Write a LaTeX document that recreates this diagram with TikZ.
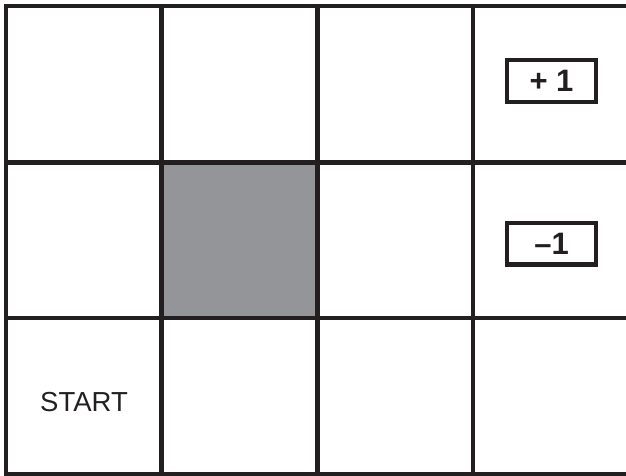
\documentclass[tikz,border=0pt]{standalone}
\usepackage{fontspec}
\setmainfont{Liberation Sans}
\definecolor{gridline}{HTML}{231F20}
\definecolor{wallgray}{HTML}{949599}
\begin{document}
\begin{tikzpicture}[x=1pt,y=-1pt,
  gridstroke/.style={draw=gridline,line width=4.5pt},
  rewardbox/.style={draw=gridline,line width=4.3pt,minimum width=88.7pt,minimum height=41.7pt,inner sep=0pt,font=\fontsize{31}{31}\selectfont\bfseries,text=gridline},
  celltext/.style={font=\fontsize{27.5}{27.5}\selectfont,text=gridline,inner sep=0pt}]
\useasboundingbox (0,0) rectangle (626,476);
% wall cell
\fill[wallgray] (161.5,162.5) rectangle (317.5,318);
% outer frame (right side cut off)
\draw[gridstroke,line join=miter] (640,6) -- (6,6) -- (6,474) -- (640,474);
% inner horizontal lines
\draw[gridstroke] (6,162.5) -- (640,162.5);
\draw[gridstroke] (6,318) -- (640,318);
% inner vertical lines
\draw[gridstroke] (161.5,6) -- (161.5,474);
\draw[gridstroke] (317.5,6) -- (317.5,474);
\draw[gridstroke] (473,6) -- (473,474);
% labels
\node[rewardbox] (plusone) at (551.5,81) {+ 1};
\node[rewardbox] (minusone) at (551.5,243.5) {–1};
\node[celltext] (start) at (84,402.5) {START};
\end{tikzpicture}
\end{document}
